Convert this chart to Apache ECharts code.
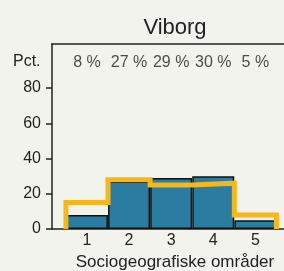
<!DOCTYPE html>
<html lang="da">
<head>
  <meta charset="UTF-8">
  <title>Viborg</title>
  <script src="https://cdn.jsdelivr.net/npm/echarts@6/dist/echarts.min.js"></script>
  <style>
    html, body { margin: 0; padding: 0; background: #f3f3ee; }
    #chart { width: 284px; height: 271px; }
  </style>
</head>
<body>
<div id="chart"></div>
<script>
  // data
  const areas = ['1', '2', '3', '4', '5'];
  const shares = [8, 27, 29, 30, 5];        // bars, Viborg
  const compare = [15, 28, 25, 26, 8];      // yellow step line
  const yTicks = [0, 20, 40, 60, 80];

  const font = "'Liberation Sans', Arial, sans-serif";
  const ink = '#222';

  const barData = shares.map((v, i) => [i + 1, v]);
  const labelData = shares.map((v, i) => [i + 1, 94.6, v]);

  // step outline: goes up at the left edge of area 1, down at the right edge of area 5
  const stepData = [[0.5, 0]];
  compare.forEach((v, i) => {
    stepData.push([i + 0.5, v]);
    stepData.push([i + 1.5, v]);
  });
  stepData.push([compare.length + 0.5, 0]);

  const chart = echarts.init(document.getElementById('chart'));
  chart.setOption({
    animation: false,
    backgroundColor: '#f3f3ee',
    textStyle: { fontFamily: font },
    title: {
      text: 'Viborg',
      left: 170, top: 12, textAlign: 'center',
      textStyle: { fontFamily: font, fontSize: 22, fontWeight: 'normal', color: ink }
    },
    graphic: [
      { type: 'text', left: 13, top: 54,
        style: { text: 'Pct.', font: '16px ' + font, fill: ink } },
      { type: 'text', x: 175, y: 254,
        style: { text: 'Sociogeografiske områder', font: '17px ' + font, fill: ink, align: 'center' } }
    ],
    grid: { left: 52, right: 0, top: 44, bottom: 42 },
    xAxis: [
      {
        type: 'value', min: 0.17, max: 5.68,
        splitLine: { show: false },
        axisLine: { show: true, lineStyle: { color: ink, width: 1.5 } },
        axisTick: { show: false },
        axisLabel: {
          customValues: [1, 2, 3, 4, 5],
          formatter: v => areas[Math.round(v) - 1],
          margin: 4, fontSize: 16, color: ink, fontFamily: font
        }
      },
      {
        type: 'value', position: 'top', min: 0.17, max: 5.68,
        splitLine: { show: false },
        axisLine: { show: true, lineStyle: { color: ink, width: 1.5 } },
        axisTick: { show: false },
        axisLabel: { show: false }
      }
    ],
    yAxis: {
      type: 'value', min: 0, max: 105, interval: 20,
      splitLine: { show: false },
      axisLine: { show: true, lineStyle: { color: ink, width: 1.5 } },
      axisTick: { show: true, length: 6, customValues: yTicks, lineStyle: { color: ink, width: 1.5 } },
      axisLabel: { customValues: yTicks, margin: 11, fontSize: 16, color: ink, fontFamily: font }
    },
    series: [
      {
        type: 'bar', data: barData, barWidth: 42,
        itemStyle: { color: '#2b7ca1', borderColor: '#111', borderWidth: 1.5 },
        z: 2
      },
      {
        type: 'line', data: stepData, showSymbol: false,
        lineStyle: { color: '#f5b81c', width: 5, join: 'miter' },
        z: 3
      },
      {
        type: 'scatter', data: labelData, symbolSize: 0,
        label: {
          show: true, position: 'inside',
          formatter: p => p.value[2] + ' %',
          fontSize: 16, color: ink, fontFamily: font
        },
        z: 4
      }
    ]
  });
</script>
</body>
</html>
